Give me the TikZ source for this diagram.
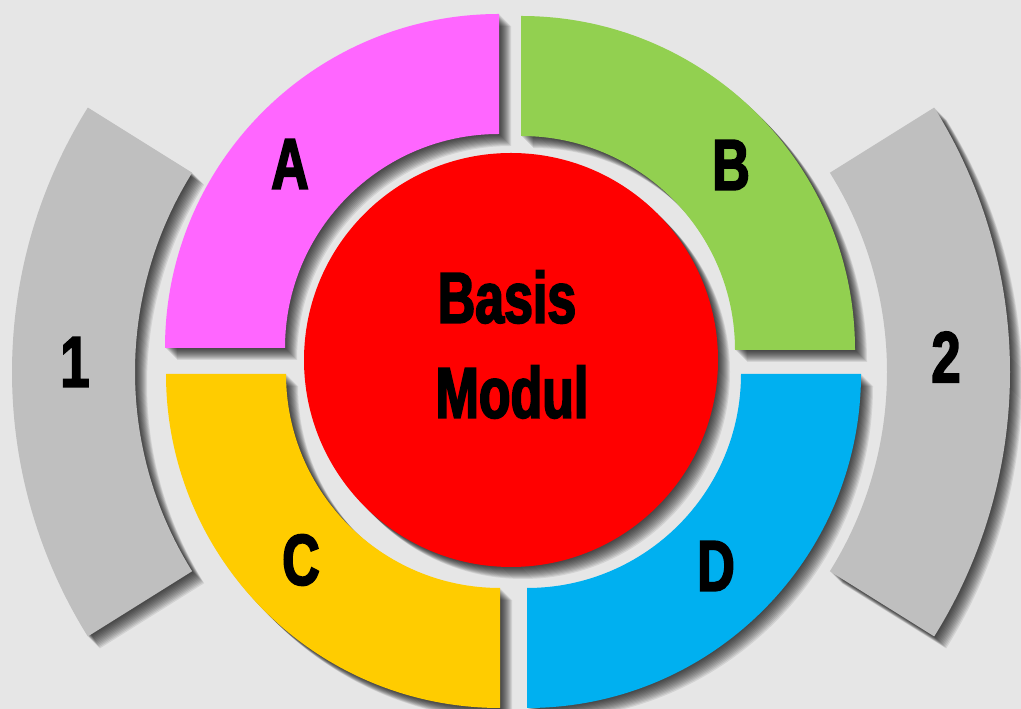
\documentclass[tikz,border=0pt]{standalone}
\usepackage{fontspec}
\newfontfamily\modulfont{Liberation Sans Bold}[FakeStretch=0.72,FakeBold=2.5]

\definecolor{bg}{HTML}{E6E6E6}
\definecolor{sideGray}{HTML}{BFBFBF}
\definecolor{segA}{HTML}{FF66FF}
\definecolor{segB}{HTML}{92D050}
\definecolor{segC}{HTML}{FFCC00}
\definecolor{segD}{HTML}{00B0F0}
\definecolor{core}{HTML}{FF0000}

\tikzset{
  shadelayer/.style={fill=black, fill opacity=0.085},
  lbl/.style={font=\modulfont\fontsize{41}{46}\selectfont, inner sep=0pt, text=black},
}

% ring piece: centre, start angle, delta angle, inner r, outer r, colour
\newcommand\ringpiece[6]{%
  \foreach \s in {1,...,12}
    \fill[shadelayer, shift={(#1)}, shift={(\s,-\s)}] (#2:#5)
      arc[start angle=#2, delta angle=#3, radius=#5] -- ({#2+#3}:#4)
      arc[start angle={#2+#3}, delta angle=-#3, radius=#4] -- cycle;
  \fill[#6, shift={(#1)}] (#2:#5)
      arc[start angle=#2, delta angle=#3, radius=#5] -- ({#2+#3}:#4)
      arc[start angle={#2+#3}, delta angle=-#3, radius=#4] -- cycle;
}

\begin{document}
\begin{tikzpicture}[x=0.02cm,y=0.02cm]
        \useasboundingbox (0,0) rectangle (1021,709);
        \fill[bg] (0,0) rectangle (1021,709);

        % side bars
        \ringpiece{511,337}{148}{64}{376}{499}{sideGray}   % 1
        \ringpiece{511,337}{-32}{64}{376}{499}{sideGray}   % 2

        % quarters
        \ringpiece{499,361}{90}{90}{214}{334}{segA}
        \ringpiece{521,359}{0}{90}{214}{334}{segB}
        \ringpiece{500,335}{180}{90}{214}{334}{segC}
        \ringpiece{527,335}{270}{90}{214}{334}{segD}

        % core
        \foreach \s in {1,...,12}
          \fill[shadelayer] (511+\s,349-\s) circle[radius=207];
        \fill[core] (511,349) circle[radius=207];

        \node[lbl] (labA) at (290,545) {A};
        \node[lbl] (labB) at (731,544) {B};
        \node[lbl] (labC) at (301,149) {C};
        \node[lbl] (labD) at (716,143) {D};
        \node[lbl] (labOne) at (75,347) {1};
        \node[lbl] (labTwo) at (946,352) {2};
        \node[lbl] (basis) at (507,412) {Basis};
        \node[lbl] (modul) at (512,317) {Modul};
\end{tikzpicture}
\end{document}
